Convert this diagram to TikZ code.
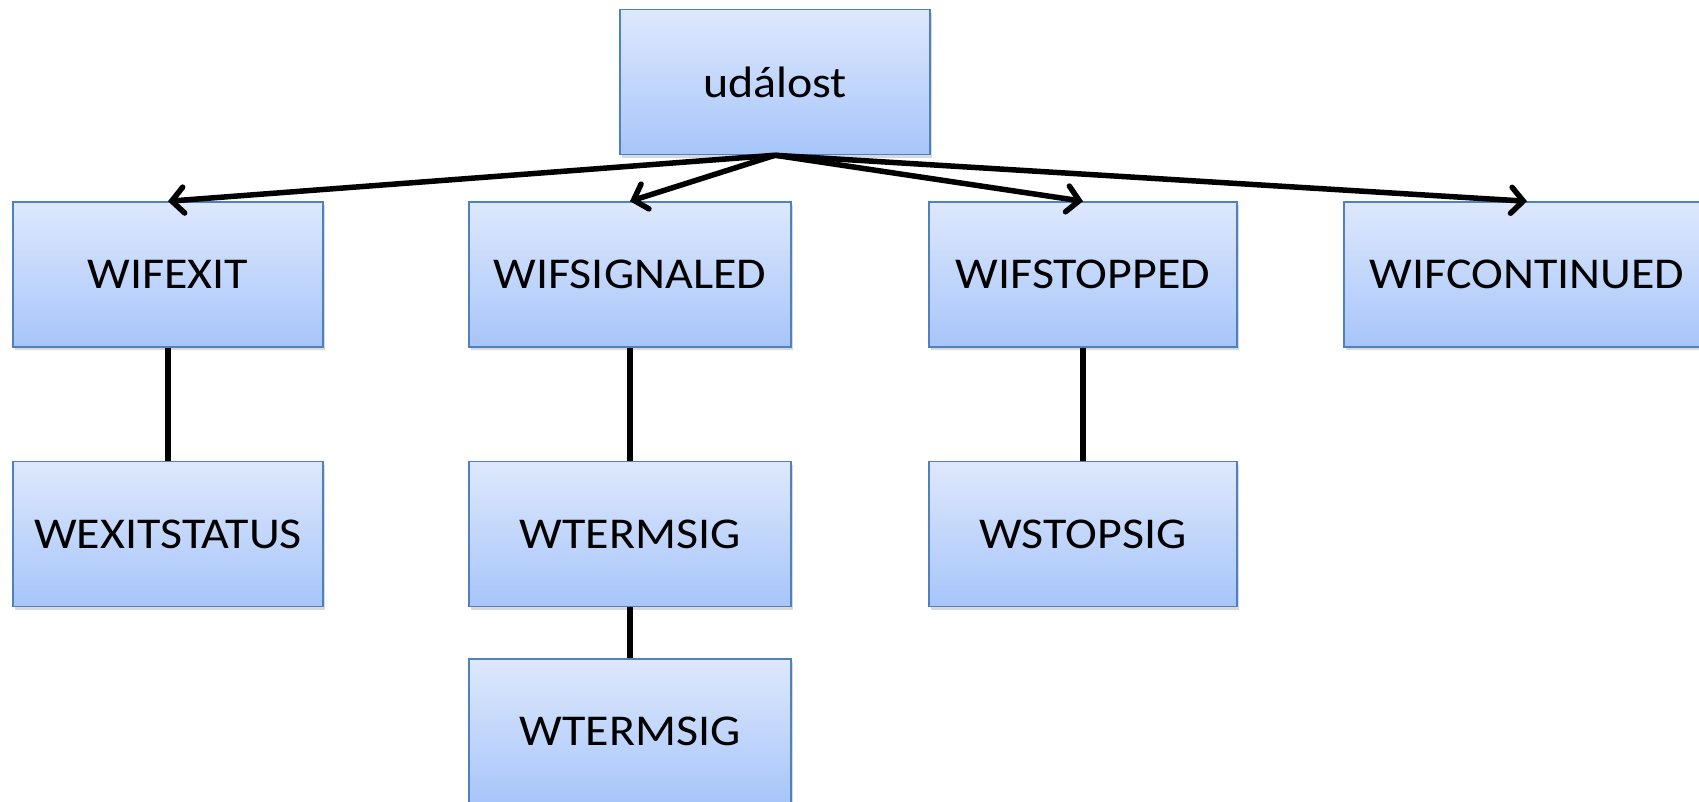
\documentclass[tikz,border=0pt]{standalone}
\usepackage{fontspec}
\setmainfont{Carlito}[FakeStretch=1.09]
\usetikzlibrary{arrows.meta, positioning, shadows}

\definecolor{boxline}{HTML}{4F81BD}
\definecolor{boxtop}{HTML}{DEE8FC}
\definecolor{boxbottom}{HTML}{A7C5FA}

\begin{document}
\begin{tikzpicture}[
    x=1pt, y=-1pt,
    node distance=113pt,
    box/.style={
        draw=boxline,
        line width=1.5pt,
        top color=boxtop,
        bottom color=boxbottom,
        minimum width=310pt,
        minimum height=145pt,
        font=\fontsize{44}{50}\selectfont,
        drop shadow={shadow xshift=2pt, shadow yshift=-3pt, opacity=0.3}
    },
    arrow/.style={-{Straight Barb[length=12pt, width=26pt, line cap=round]}, line width=5.5pt},
    link/.style={line width=5.5pt}
]
\useasboundingbox (0,0) rectangle (1699,801);

% --- Root
\node[box] (event) at (775,82) {událost};

% --- First level
\node[box] (exit) at (168,274.5) {WIFEXIT};
\node[box, minimum width=322pt] (signaled) at (630,274.5) {WIFSIGNALED};
\node[box, minimum width=308pt] (stopped) at (1083,274.5) {WIFSTOPPED};
\node[box, minimum width=366pt] (continued) at (1527,274.5) {WIFCONTINUED};

% --- Second level
\node[box, below=of exit] (exitstatus) {WEXITSTATUS};
\node[box, minimum width=322pt, below=of signaled] (termsig) {WTERMSIG};
\node[box, minimum width=308pt, below=of stopped] (stopsig) {WSTOPSIG};

% --- Third level
\node[box, minimum width=322pt, below=51pt of termsig] (termsigb) {WTERMSIG};

% --- Arrows
\draw[arrow] (event.south) -- (exit.north);
\draw[arrow] (event.south) -- (signaled.north);
\draw[arrow] (event.south) -- (stopped.north);
\draw[arrow] (event.south) -- (continued.north);

% --- Links
\draw[link] (exit) -- (exitstatus);
\draw[link] (signaled) -- (termsig);
\draw[link] (termsig) -- (termsigb);
\draw[link] (stopped) -- (stopsig);

\end{tikzpicture}
\end{document}
